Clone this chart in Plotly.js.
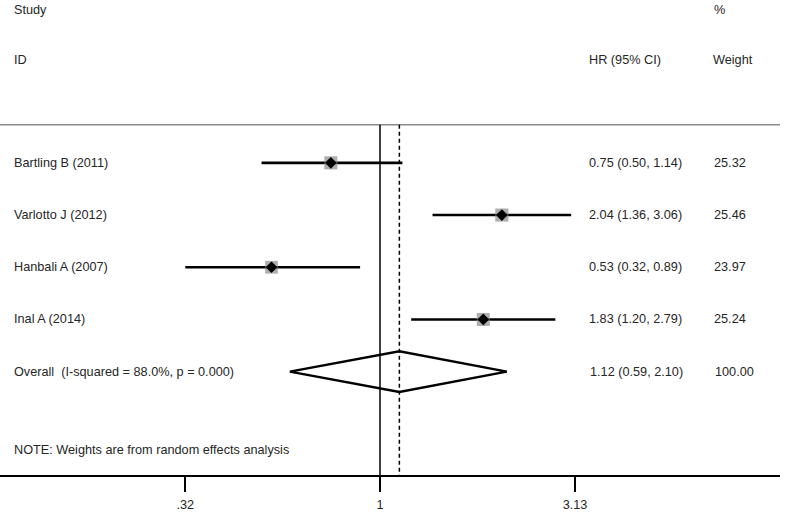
<!DOCTYPE html>
<html><head><meta charset="utf-8">
<script src="https://cdn.plot.ly/plotly-3.0.1.min.js"></script>
<style>html,body{margin:0;padding:0;background:#fff}#plot{width:800px;height:512px}</style>
</head><body><div id="plot"></div>
<script>
const studies = ["Bartling B (2011)", "Varlotto J (2012)", "Hanbali A (2007)", "Inal A (2014)"];
const hr = [0.75, 2.04, 0.53, 1.83];
const lower = [0.50, 1.36, 0.32, 1.20];
const upper = [1.14, 3.06, 0.89, 2.79];
const weights = [25.32, 25.46, 23.97, 25.24];
const hrText = ["0.75 (0.50, 1.14)", "2.04 (1.36, 3.06)", "0.53 (0.32, 0.89)", "1.83 (1.20, 2.79)"];
const weightText = ["25.32", "25.46", "23.97", "25.24"];
const overallLabel = "Overall  (I-squared = 88.0%, p = 0.000)";
const overall = {hr: 1.12, lower: 0.59, upper: 2.10, text: "1.12 (0.59, 2.10)", weight: "100.00"};
const noteText = "NOTE: Weights are from random effects analysis";
const tickVals = [0.32, 1, 3.13];
const tickText = [".32", "1", "3.13"];

const rows = studies.map((_, i) => i + 1);
const overallRow = studies.length + 1;
const noteRow = overallRow + 1.5;
const diamondHalf = 0.39;

const FONT = "Liberation Sans, Arial, sans-serif";
const TXT = "#262626";
const FS = 12.7;

// CI lines
const ciX = [], ciY = [];
studies.forEach((s, i) => { ciX.push(lower[i], upper[i], null); ciY.push(rows[i], rows[i], null); });

const traces = [
  {x: ciX, y: ciY, mode: "lines", line: {color: "#000", width: 2.6}, hoverinfo: "skip"},
  {x: hr, y: rows, mode: "markers", marker: {symbol: "square", color: "#8c8c8c", size: weights.map(w => 2.6 * Math.sqrt(w)), line: {width: 0}}, hoverinfo: "skip"},
  {x: hr, y: rows, mode: "markers", marker: {symbol: "diamond", color: "#000", size: 9}, hoverinfo: "skip"},
  {x: [overall.lower, overall.hr, overall.upper, overall.hr, overall.lower],
   y: [overallRow, overallRow - diamondHalf, overallRow, overallRow + diamondHalf, overallRow],
   mode: "lines", line: {color: "#000", width: 2.4}, hoverinfo: "skip"}
];

const px = p => p / 780;
const ann = [];
function addText(text, xpx, y) {
  ann.push({text: text, xref: "paper", x: px(xpx - 3), yref: "y", y: y, xanchor: "left", yanchor: "middle",
            showarrow: false, font: {family: FONT, size: FS, color: TXT}});
}
addText("Study", 15, -1.93);
addText("ID", 15, -0.97);
addText("%", 715, -1.93);
addText("HR (95% CI)", 590, -0.97);
addText("Weight", 714, -0.97);
studies.forEach((s, i) => {
  addText(s, 15, rows[i]);
  addText(hrText[i], 590, rows[i]);
  addText(weightText[i], 715, rows[i]);
});
addText(overallLabel, 15, overallRow);
addText(overall.text, 591, overallRow);
addText(overall.weight, 716, overallRow);
addText(noteText, 15, noteRow);

const topLine = 0.27;
const shapes = [
  {type: "line", xref: "paper", x0: 0, x1: 1, yref: "y", y0: topLine, y1: topLine, line: {color: "#8a8a8a", width: 1.6}},
  {type: "line", xref: "x", x0: 1, x1: 1, yref: "y", y0: topLine, y1: 6.98, line: {color: "#000", width: 1.5}},
  {type: "line", xref: "x", x0: overall.hr, x1: overall.hr, yref: "y", y0: topLine, y1: 6.98, line: {color: "#000", width: 1.5, dash: "4px,3px"}}
];

const layout = {
  width: 800, height: 512,
  margin: {l: 0, r: 20, t: 0, b: 37},
  paper_bgcolor: "#fff", plot_bgcolor: "#fff",
  showlegend: false,
  xaxis: {type: "log", range: [-0.9657, 1.0165], showgrid: false, zeroline: false,
          showline: true, linecolor: "#000", linewidth: 1.6,
          ticks: "outside", ticklen: 15, tickwidth: 1.6, tickcolor: "#000", ticklabelstandoff: 2,
          tickvals: tickVals, ticktext: tickText, tickfont: {family: FONT, size: FS, color: TXT}, fixedrange: true},
  yaxis: {range: [6.98, -2.12], showgrid: false, zeroline: false, showline: false, showticklabels: false, ticks: "", fixedrange: true},
  annotations: ann,
  shapes: shapes
};
Plotly.newPlot("plot", traces, layout, {displayModeBar: false, staticPlot: true});
</script></body></html>
